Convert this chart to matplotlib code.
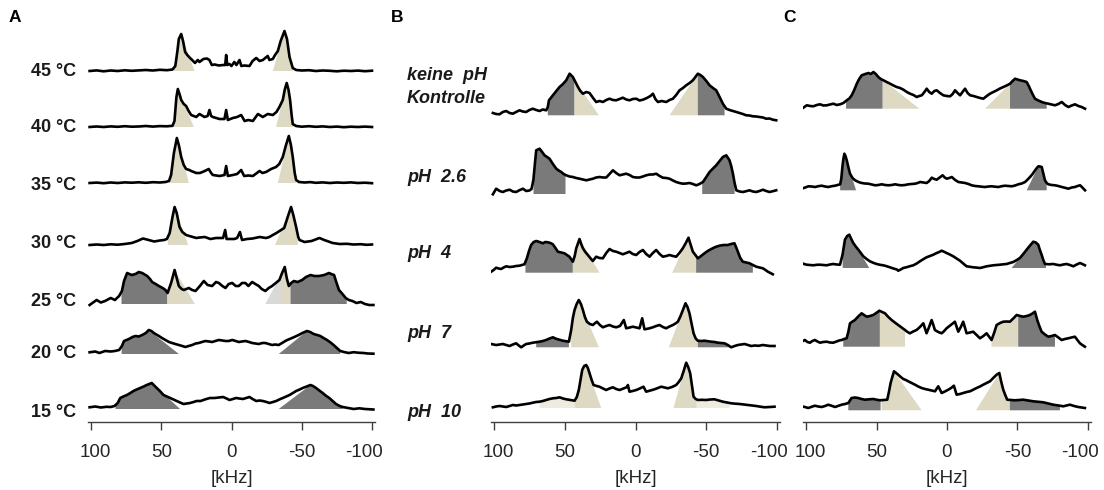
import numpy as np
import matplotlib
matplotlib.use('Agg')
import matplotlib.pyplot as plt
import matplotlib.transforms as mtransforms

plt.rcParams['font.family'] = ['Liberation Sans', 'DejaVu Sans']
plt.rcParams['axes.unicode_minus'] = False

# ---- spectra: (kHz, intensity) ----
A_45 = [(101,0),(96,0.6),(91,-0.3),(86,0.5),(81,0),(76,0.7),(71,0.2),(66,0.6),(61,1),(56,0.5),(51,1.2),(46,0.8),(42,1.5),(40,5),(38.5,20),(37.5,32),(35.8,37),(34.5,30),(33,19),(31.5,16),(29.5,13),(28,11),(26,8),(24,11),(22.8,9),(20,12),(17.5,12.5),(15.7,11),(14,6),(12,6.5),(9,5.5),(6,6),(4.5,6),(3.8,16),(3,6),(1.5,7),(0,5),(-2,9),(-3.5,6),(-5.7,11),(-7,5),(-9,5.5),(-12.8,5),(-15,10),(-17.6,13),(-20,10),(-22.3,11),(-24,13),(-25.8,15),(-27,11),(-29.4,12),(-31,16),(-33,20),(-35,30),(-37.7,40),(-39.5,32),(-41.3,14),(-43.6,3),(-46,1),(-50,0.5),(-55,0.8),(-60,0),(-65,0.5),(-70,0.2),(-75,-0.3),(-80,0.3),(-85,0),(-90,0.4),(-95,-0.2),(-100,0.3)]
A_40 = [(101,0),(96,0.5),(91,0),(86,0.6),(81,0.2),(76,0.8),(71,0.3),(66,0.5),(61,1),(56,0.4),(51,0.9),(46,0.7),(42,1.2),(40.6,6),(39.2,30),(38.2,38),(36.8,32),(35.8,27),(34,23),(32.3,21),(30.5,16),(28.7,12),(25.1,10),(22.8,13),(19.2,10),(17,11),(15.7,17),(14.5,11),(13.3,10),(8.5,8),(5,8),(3.8,17),(2.6,7),(-1,9),(-4,10),(-6.9,12),(-9.3,6),(-12,7),(-15.2,6),(-18.8,13),(-22.3,10),(-25.8,13),(-29.4,12),(-32,15),(-34.1,20),(-36.5,27),(-38,38),(-39.3,44),(-40.6,37),(-41.7,27),(-42.8,12),(-43.6,3),(-46,1),(-50,0.3),(-55,0.8),(-60,0.2),(-65,0.6),(-70,0),(-75,0.4),(-80,-0.2),(-85,0.3),(-90,0),(-95,0.4),(-100,0)]
A_35 = [(101,0),(96,0.4),(91,-0.2),(86,0.5),(81,0),(76,0.6),(71,0.3),(66,0.7),(61,0.2),(56,0.8),(51,0.5),(47,1),(44.5,2),(43,8),(41,30),(38.9,45),(37.5,38),(35.8,26),(34,18),(32.3,14),(30,13),(28.7,12),(25.1,10),(22.5,10),(19,12),(16.2,14),(14.5,10),(13.3,8),(8.5,7),(5,8),(3.8,17),(2.6,7),(-1,8),(-4,9),(-6.9,13),(-9,7),(-12,7.5),(-15.2,7),(-20,12),(-22,10),(-24.6,11),(-28.2,14),(-31.7,16),(-34,19),(-36.5,26),(-38.8,38),(-40.8,47),(-42.3,38),(-43.6,26),(-45,10),(-46,3),(-48,1),(-52,0.5),(-56,0.9),(-60,0.2),(-65,0.6),(-70,0),(-75,0.5),(-80,0.2),(-85,0.6),(-90,0),(-95,0.3),(-100,-0.2)]
A_30 = [(101,0),(96,0.5),(91,0),(86,0.7),(81,0.3),(76,1),(71,2),(67,4),(63,6.5),(59,5),(55,3.5),(51,4.5),(48,5),(46,6),(44,12),(42,28),(40.5,38),(39,32),(37,18),(35,13),(32.3,10),(30,9),(27.5,8),(25,7),(22.8,7.5),(19,8),(15,6),(11,7),(6,7),(4.5,15),(3.5,6),(1,6),(-2,6),(-4,7),(-6,13),(-7.5,5),(-11,6),(-15,6.5),(-20,8),(-24.6,7),(-27,8),(-29.4,10),(-32,12),(-35.3,15),(-37.5,17),(-40,28),(-42.4,38),(-44,30),(-46,18),(-47.5,8),(-48.4,5),(-52,3),(-57,4),(-62.6,7),(-66,5),(-70,3),(-72,2),(-77,1),(-82,1.2),(-87,0.5),(-92,0.8),(-96,0.2),(-100,0.5)]
A_25 = [(101,-2),(98,1),(96,3),(93,0.5),(90,2),(86,5),(83,3),(80,7),(78,12),(76.5,22),(74.3,30),(71,28),(68.3,29),(66,31),(63.6,30),(60,27),(58,24),(56.5,21),(54,19),(51.7,17),(49,15),(47,13),(45.5,10),(43,20),(40.5,33),(39,25),(37.5,17),(35.5,14),(33.9,13),(30.4,15),(28,13),(25.6,12),(22.5,17),(19.7,22),(17,18),(13.8,17),(11,21),(9,20),(6.5,17),(4.3,15),(2,19),(-0.5,20),(-3,17),(-5.2,17),(-7.5,20),(-9.9,20),(-12,17),(-14.7,21),(-17,19),(-19.4,17),(-21.5,14),(-24.1,12),(-26.5,15),(-28.9,17),(-31.5,20),(-34.1,23),(-36,30),(-37.9,36),(-39.3,25),(-40.8,17),(-42.5,20),(-44.4,22),(-47,21),(-50.3,23),(-53,26),(-56.3,28),(-59,27),(-62.3,27),(-66,28),(-69.4,30),(-71,29),(-73,28),(-74.8,20),(-76.5,13),(-79,9),(-81.3,5),(-83.5,3),(-86,2),(-89,0),(-92,1),(-95,-1),(-98,-2),(-101,-2)]
A_20 = [(101,0.7),(97,1.5),(94,0),(90,2),(86,1.5),(83,2),(80,3),(78,7),(76.5,12),(73,14),(70.5,16),(68.3,17),(66,16.5),(63.6,18),(61,20),(58.9,23),(57,22),(55.3,20),(53.5,18.5),(51.7,17),(49.5,15),(47,13),(44.5,11),(42.3,10),(40,9),(37.5,8),(35,7),(32.8,6),(30.5,7),(28,8),(25.5,9.5),(23.3,10),(21,11),(18.6,12),(16,11.5),(13.8,11),(11.5,12),(9,13),(6.5,12.5),(4.3,12),(2,12),(-0.5,13),(-3,12),(-5.2,11),(-7.5,11.5),(-9.9,12),(-12.5,11),(-14.7,10),(-17,9.5),(-19.4,9),(-22,10),(-24.1,10),(-26.5,9),(-28.9,8),(-31,8.5),(-33.6,8),(-36,10),(-38.3,12),(-40.5,13.5),(-43.1,15),(-45.5,16.5),(-47.8,18),(-50.5,20),(-53.7,22),(-56,21),(-58.5,19),(-61,18),(-63.2,17),(-65.5,15),(-68,13),(-70.5,10.5),(-72.7,8),(-75,5),(-77.4,2),(-80,1),(-83.4,0),(-87,0.8),(-90,0.3),(-94,0),(-97,-0.5),(-101,-0.7)]
A_15 = [(101,0.7),(97,1.5),(93,0.5),(89,1.2),(86,1),(83.3,2),(81,5),(79.2,10),(77,11.5),(74.5,13),(72,15),(69.8,17),(67.5,18.5),(65,20),(62.5,21.5),(60.4,23),(58.5,24),(56.8,25),(55,22.5),(53.2,20),(51,17),(48.4,13),(46,11.5),(43.7,10),(41.3,8.5),(39,7),(36.6,5.5),(34.2,4),(31.8,4.5),(29.5,5),(27,6),(24.8,7),(22,7),(19,8.5),(15.4,10),(12,10),(9,10.5),(6,11),(3.5,9.5),(1.4,8),(-1,9),(-3.3,10),(-5.5,9.5),(-8.1,9),(-10.5,10),(-12.8,11),(-15,9),(-17.6,7),(-20,7.5),(-22.3,7),(-25,6),(-27,5),(-29.5,6),(-31.8,7),(-34,8.5),(-36.5,10),(-39,11.5),(-41.3,13),(-43.7,15),(-46,17),(-48.5,18.5),(-50.7,20),(-53.5,21.5),(-56.2,23),(-58,22),(-60.2,20),(-62.5,17.5),(-64.9,15),(-67,12.5),(-69.6,10),(-72,7),(-74.4,4),(-77,2),(-79.1,1),(-83,0),(-87,-1),(-91,-0.3),(-95,-1),(-101,-1.5)]

B_ctrl = [(100.8,6),(98.5,5),(96.1,4.7),(93.8,7),(91.4,8),(89,6),(86.7,5.3),(84.4,7),(82,8.7),(79.7,7.5),(77.3,7),(75,9),(72.6,10.3),(70.2,9),(67.8,8),(65.5,9.5),(63.1,8.7),(62,12),(61.2,18.7),(58.4,23.7),(56,28),(53.7,32),(51.3,35),(49,38.7),(46.6,45.3),(44.3,42),(42.5,37),(40.7,32),(39,28),(37.2,25.3),(34.8,27),(32.5,26),(30,21),(27.8,17),(25.4,18),(23.1,17),(20.7,19),(18.4,20.3),(16,19),(13.7,18.7),(11.3,20),(9,21.3),(6.6,19.5),(4.2,18.7),(1.9,20),(-0.5,20.3),(-2.8,18.5),(-5.2,19.3),(-8,21),(-10.5,23),(-12.3,25.3),(-14,20),(-15.8,17),(-18.5,18),(-21.7,17),(-24,19),(-26.4,20.3),(-28.7,24),(-31.1,28.7),(-33.5,31),(-35.8,33.7),(-38.2,36),(-40.5,38.7),(-42.3,42),(-44,45.3),(-45.8,44),(-47.6,42),(-50,38),(-52.3,33.7),(-54.7,31),(-57,28.7),(-59.4,22),(-61.7,15.3),(-64.1,10.3),(-66.4,9),(-68.8,8),(-71.2,7),(-73.5,6),(-75.8,5),(-78.2,3.7),(-80.5,3.5),(-82.9,2.7),(-85.3,2.5),(-87.6,2),(-90,1.5),(-92.3,0.3),(-94.7,0.5),(-97,-0.7),(-99.4,-1.3)]
B_26 = [(100.8,-2.3),(98.5,3.3),(96,1),(93.8,0),(91.4,1.5),(89,2.3),(86.7,0.5),(84.4,0),(82,1.8),(79.6,3.3),(77.3,1),(75,1.5),(73.5,3),(72.2,12),(71,30),(70.2,41.7),(67.8,43.3),(66,40),(64.3,36.7),(62.5,35),(60.8,33.3),(58.4,28),(56,23.3),(54.3,21.5),(52.5,20),(50.8,18),(49,16.7),(46.6,15.5),(44.3,15),(42,14),(39.6,13.3),(37.2,12.5),(34.8,11.7),(32.5,12.5),(30.1,13.3),(27.8,14.5),(25.4,15),(23,14.5),(20.7,14.5),(18.4,18),(16,21.7),(13.7,19),(11.3,16.7),(9,17.5),(6.6,18.3),(4.2,17),(1.9,15),(-0.5,14.5),(-2.8,14.5),(-5.2,15.5),(-7.5,16.7),(-10,17.5),(-12.3,17.5),(-14.6,18.3),(-17,16),(-19.3,14.3),(-21.7,14),(-24,13.3),(-26.4,11.5),(-28.7,10),(-31,9),(-33.4,8.3),(-35.8,8.5),(-38.2,9),(-40.5,8),(-42.9,6.7),(-45.2,8),(-47.6,10),(-50,15),(-52.3,20),(-54.7,23.5),(-57,26.7),(-59.4,31),(-61.7,35),(-64.1,36.7),(-66.4,31.7),(-67.6,26),(-68.8,18.3),(-70,9),(-71.2,1.7),(-73.5,0.5),(-75.8,0),(-78.2,0.8),(-80.5,1.7),(-82.9,0.5),(-85.3,0),(-87.6,1),(-90,2.3),(-92.3,1),(-94.7,0),(-97,0.8),(-99.4,1.7)]
B_4 = [(102,0.3),(100.3,2),(98.5,4.3),(96.8,3.5),(95,3),(93.2,4.5),(91.4,5.7),(89,5),(86.7,5.3),(84.4,6),(82,6.3),(80.3,7),(78.5,7.7),(76.8,13.7),(75.3,21),(73.8,27),(72,30),(70.2,31),(67.8,30),(65.5,28.7),(63.8,30),(62,29.7),(60.2,29),(58.4,27.7),(56.6,24),(54.9,20.3),(52.5,19.5),(50.2,18.7),(48.5,17),(46.7,15.3),(44.3,10.3),(43,16),(41.9,23.7),(39.6,33),(38.4,28),(37.2,23.7),(35.5,20),(33.7,17),(32,14),(30.2,11),(27.8,15.3),(25.5,14),(23.1,13.7),(20.7,19),(18.4,23),(16,21),(13.7,20.3),(11.3,19),(9,17.7),(6.6,19),(4.3,20.3),(2,18),(-0.5,17),(-2.8,20),(-5.2,22),(-7.5,18),(-9.9,15.3),(-12.2,19),(-14.6,22),(-17,18),(-19.3,15.3),(-21.7,16),(-24,17),(-26.4,16),(-28.7,15.3),(-31,19),(-33.4,23.7),(-35.5,29),(-37.4,34.3),(-39,27),(-40.5,20.3),(-42.3,17),(-44,13.7),(-46.3,16),(-48.7,18.7),(-51,21),(-53.5,23),(-56.4,25),(-59.3,26.3),(-62.2,27),(-65.2,27),(-67.5,28),(-69.9,28.7),(-71,25),(-72.3,20.3),(-74,14),(-75.8,10.3),(-78.2,9.5),(-80.5,8.7),(-82.9,7),(-85.3,5.3),(-87.6,4.5),(-90,3.7),(-91.8,2),(-93.5,0.3),(-95.3,-1),(-97,-2.3)]
B_7 = [(102,2),(100.3,1.5),(98.5,1),(96,1.5),(93.8,2),(91.4,1),(89,0),(86.7,1.5),(84.4,2.7),(82.5,0.5),(80.8,-1.3),(79,0.5),(77.3,2),(75,2.5),(72.6,3.3),(70.2,3.8),(67.9,4.3),(65.5,5),(63.2,6),(60.8,7.5),(58.4,8.7),(56.6,7.5),(54.9,6.7),(53.1,6),(51.4,5.3),(49.2,4.8),(47.1,4.3),(45.5,16),(44.3,28),(43.1,36),(41.6,42),(40.1,46),(38.6,42),(37.2,36),(35.8,29),(34.4,24.3),(32.3,22),(30.2,21),(27.3,24.3),(25.2,21),(23.1,18.7),(20.7,20),(18.4,21),(16,19.5),(13.7,18.7),(11,20),(8.3,26),(6.6,17.7),(4.2,18.5),(1.9,19.3),(-0.5,18.5),(-2.8,17.7),(-4.7,27.7),(-6.3,16.7),(-9.3,17.5),(-12.2,18.7),(-14.6,20),(-16.9,21),(-19.3,19),(-21.6,17.7),(-24,19.5),(-26.4,21),(-28.2,22.5),(-29.9,24.3),(-31.5,29),(-33,34.3),(-35.3,42.7),(-36.7,39),(-38.1,32.7),(-39.5,23),(-41,12.7),(-42.5,7.5),(-44,5.3),(-46.3,5),(-48.7,5.3),(-51.1,4.8),(-53.5,4.3),(-55.8,4),(-58.2,3.3),(-60.5,3),(-62.9,2.7),(-65.2,1),(-67.6,-1.3),(-70,0),(-72.3,1),(-74.7,1.5),(-77,2),(-79.4,1),(-81.7,0),(-84.4,0.5),(-87,0.2),(-90,1),(-92.3,0.5),(-95,0),(-98.2,0)]
B_10 = [(100.8,-0.3),(98.5,0.5),(96.1,1),(93.8,0.5),(91.4,0),(89,1),(86.7,2),(84.4,1.5),(82,2),(79.7,2.5),(77.3,3),(75,3.5),(72.6,4.3),(70.2,5),(67.9,5.3),(65.5,6),(63.2,7),(60.8,8),(58.4,8.7),(56,9),(53.7,9.7),(51.3,8.5),(49,7.7),(46,7),(43.1,6.3),(41.5,10),(40.1,17),(38.9,27),(37.7,37),(36.3,41),(34.9,42),(33.7,39),(32.5,33.7),(31,27),(29.7,22),(27.5,21),(25.5,20.3),(23,18.5),(20.8,17),(18.4,18.5),(16,19.7),(13.7,18),(11.3,17),(8.5,18.5),(6,20),(5.4,22),(4.3,15.3),(2,16),(-0.5,17),(-3,18.5),(-5.6,20.3),(-7.5,15.3),(-10.5,16.5),(-13.4,17.7),(-15.8,19),(-18.1,20.3),(-20.5,19.5),(-22.8,18.7),(-25.8,20),(-28.7,22),(-30.5,25),(-32.3,28.7),(-34,36),(-35.8,44.3),(-37.2,40),(-38.6,33.7),(-39.8,22),(-41,10.3),(-42.5,8),(-44,7),(-47,7.2),(-49.9,7),(-52.8,7.5),(-55.8,7.7),(-58.7,6.5),(-61.7,5.3),(-64.7,4.5),(-67.6,3.7),(-70.6,3.3),(-73.5,3),(-76.5,2.5),(-79.4,2),(-82.3,1.5),(-85.3,1),(-88.2,0.3),(-91.2,-0.3),(-94.7,0),(-98.2,0.3)]

C_ctrl = [(103,-1.7),(101.2,0),(99.5,1.7),(97,1),(94.8,0.7),(92.4,2),(90,2.7),(87.7,1.5),(85.3,1.7),(83,2.5),(80.6,3.3),(78.2,2),(75.8,2.7),(73.5,4),(71.1,6.7),(69.3,8.5),(67.6,11.7),(65.8,17),(64,23.3),(62.3,28),(60.5,31.7),(58,33),(55.7,34),(54,33),(52.2,35),(50.5,33),(48.7,30),(47,28),(45.1,26.7),(42.8,25),(40.4,23.3),(38,21.5),(35.7,20),(33.3,19),(30.9,17.3),(28.5,15),(26.2,13.3),(23.8,12),(21.5,10),(19.7,11),(17.9,11.7),(16,15),(14.4,18.3),(12.6,15),(10.8,13.3),(9,16),(7.3,16.7),(5,14),(2.6,11.7),(0.2,11),(-2.2,10.7),(-4,13),(-5.7,16.7),(-7.5,14),(-9.3,11.7),(-11,15),(-12.8,18.3),(-14.6,14),(-16.4,11.7),(-18.8,11),(-21.1,10),(-23.5,9),(-25.8,8.3),(-28.2,11),(-30.5,13.3),(-32.9,15),(-35.3,16.7),(-37.6,18.5),(-40,20),(-42.3,21.5),(-44.7,23.3),(-46.5,26),(-48.3,28.3),(-50,27.5),(-51.8,26.7),(-54.2,26),(-56.5,25),(-58,21),(-59.4,16.7),(-61,12),(-62.4,8.3),(-64.8,6.5),(-67.2,5),(-69.5,4),(-71.9,3.3),(-74.2,2.5),(-76.6,1.7),(-79,3),(-81.4,5),(-83.7,2),(-86.1,0),(-88.5,1.5),(-90.8,2.7),(-93.2,1),(-95.5,0),(-97.9,-1.7)]
C_26 = [(103,-1.7),(100.6,-0.5),(98.3,0.7),(96,0.5),(93.6,0),(91.3,0.8),(88.9,1.3),(86.5,0.5),(84.2,0),(81.8,0.8),(79.4,1.3),(77.6,2),(75.8,2.7),(75,8),(74.2,20),(73.5,28),(72.8,33.3),(72,31),(71.1,26.7),(70,20),(68.8,13.3),(67,9),(65.2,6.7),(62.8,5),(60.5,4),(58.2,3.5),(55.8,3.3),(53.4,2.5),(51,1.7),(48.7,2),(46.3,2.7),(43.9,2),(41.6,1.7),(39.2,2),(36.8,2.7),(34.4,2),(32.1,1.7),(29.8,2),(27.4,2.7),(25,3),(22.6,3.3),(20.8,4),(19.1,5),(16.7,4.5),(14.4,4),(12.6,6),(10.8,9.3),(9,8),(7.3,7.3),(5.2,9.5),(3.1,11.7),(1.6,9.5),(0.2,8.3),(-1.6,9),(-3.4,10),(-5.8,7),(-8.1,5),(-10.5,4.5),(-12.8,4),(-15.2,3),(-17.5,1.7),(-19.9,1),(-22.3,0.7),(-24.6,0.3),(-27,0),(-29.4,0.5),(-31.7,0.7),(-34.1,0.3),(-36.5,0),(-38.8,0.8),(-41.2,1.3),(-43.5,1),(-45.9,0.7),(-48.3,1.5),(-50.6,2.7),(-53,3.5),(-55.4,5),(-57.2,7.5),(-58.9,10),(-60.7,13),(-62.5,16.7),(-63.7,19),(-64.8,20.7),(-66,20.5),(-67.2,20),(-68.4,13),(-69.5,6.7),(-70.7,4),(-71.9,2.7),(-74.2,2),(-76.6,1.7),(-79,1),(-81.4,0),(-83.7,-0.8),(-86.1,-1.7),(-88.5,-0.5),(-90.8,0),(-92.6,1),(-94.4,1.7),(-96,-0.5),(-97.9,-3.3)]
C_4 = [(103.1,1),(101.4,0),(99.6,-0.7),(97.2,-1),(94.8,-1.3),(92.5,-0.8),(90.1,-0.7),(87.7,-1),(85.4,-1.3),(83,-0.5),(80.7,0),(78.3,-0.5),(75.9,-0.7),(74.1,9.3),(72.4,24.3),(70.8,28),(69.3,29.3),(67.9,25),(66.5,21),(64.7,17.5),(62.9,14.3),(61.1,11),(59.4,7.7),(57,5),(54.7,2.7),(52.3,1.2),(49.9,0),(47.5,-0.8),(45.2,-1.3),(42.8,-2.2),(40.5,-3.3),(38,-4.5),(35.6,-5.5),(34.6,-6.7),(32.8,-5.5),(31,-4),(28.6,-3.2),(26.3,-2.2),(23.9,-1.3),(21.5,0.5),(19.2,2.7),(16.8,4.8),(14.5,6.7),(12.1,8),(9.7,9.3),(7.3,11),(5.5,12),(3.8,13.3),(2,12.2),(0.3,11),(-2,9.5),(-4.4,7.7),(-6.8,5.5),(-9.2,3.3),(-11.5,0.5),(-13.9,-2.3),(-16.3,-2.8),(-18.6,-3.3),(-21,-3.6),(-23.4,-4),(-25.8,-3.2),(-28.1,-2.3),(-30.5,-1.8),(-32.8,-1.3),(-35.2,-1),(-37.5,-0.7),(-40,-0.3),(-42.3,0),(-44.6,1),(-47,2),(-49.3,3.8),(-51.7,6),(-54.1,10),(-56.5,14.3),(-58.8,18.3),(-61.2,22.3),(-63,21.5),(-64.7,19.3),(-65.9,14),(-67.1,9.3),(-68.3,4),(-69.5,0),(-72.5,-0.3),(-75.4,0),(-78,-0.8),(-80.1,-1.3),(-82.5,-0.5),(-84.8,0),(-87.2,-1),(-89.6,-2.3),(-92,-0.5),(-94.3,1),(-96,0),(-97.8,-1.3)]
C_7 = [(103.1,2.3),(100.8,4),(99,2),(97.2,1.3),(95.5,3),(93.7,4),(91.9,2.5),(90.1,1.3),(87.8,2),(85.4,2.3),(83,1.5),(80.7,1.3),(78.3,2.5),(76.5,3.5),(74.7,4),(73,5),(71.2,5.7),(70,12),(68.8,20.7),(67,22.5),(65.3,24),(63,27.5),(60.6,30.7),(58.8,29),(57,27.3),(54.6,28),(52.3,29),(50.2,31),(48,33.3),(46,32),(44,30.7),(41.6,27),(39.3,24),(37,21.5),(34.6,19),(32.2,16.5),(29.8,14),(28,12),(26.3,10.7),(24,12.5),(21.6,14),(19.2,17),(16.8,20.7),(14.5,10.7),(12.7,17),(10.9,24),(9.7,19),(8.6,14),(6.2,12),(3.8,10.7),(2,13),(0.3,15.7),(-2.7,19),(-5.6,22.3),(-8,12.3),(-9.8,17),(-11.5,22.3),(-13.9,10.7),(-16.3,11.5),(-18.6,12.3),(-21,9),(-23.4,5.7),(-25.8,8),(-28.1,10.7),(-30,7),(-31.6,4),(-33.4,11),(-35.2,19),(-37.6,21),(-39.9,22.3),(-42.3,22.5),(-44.6,22.3),(-47,25.5),(-49.4,29),(-51.8,28),(-54.1,27.3),(-56.5,28),(-58.8,29),(-60.6,30.5),(-62.4,32.3),(-64,24),(-65.5,18),(-67.1,12.3),(-69.5,9.5),(-71.8,7.3),(-74.2,8),(-76.6,9),(-79,6.5),(-81.3,4),(-83.7,5),(-86,5.7),(-88.3,6.5),(-90.7,7.3),(-92.5,4),(-94.3,0.7),(-96,-1),(-97.8,-2.7)]
C_10 = [(103.1,0.7),(100.8,0),(98.4,-1),(96,0.2),(93.7,1.3),(91.3,0.5),(88.9,0),(86.5,1),(84.2,2.3),(81.8,1.2),(79.4,0),(77,1.2),(74.7,2.3),(72.3,3),(70,4),(67.7,9),(65.3,9.5),(63,9),(60.6,8),(58.2,7.3),(55.3,7.7),(52.3,8),(50,7.3),(47.6,6.7),(45,7),(42.4,7.3),(41.2,15),(40,24),(38.8,30),(37.6,35.7),(36.1,34),(34.6,32.3),(32.8,30),(31,28),(29.2,27),(27.5,25.7),(25.1,24),(22.7,22.3),(20.4,20.5),(18,19),(15.6,18),(13.3,17.3),(10.9,16.5),(8.5,15.7),(6.2,20.7),(3.8,14),(1.5,15.5),(-0.9,17.3),(-2.9,19),(-4.9,21.3),(-6.8,12.3),(-9.2,13),(-11.5,14),(-13.9,15),(-16.3,15.7),(-18.6,17.3),(-21,19),(-23.4,20.5),(-25.7,22.3),(-28.1,24),(-30.5,25.7),(-32.8,29),(-35.2,32.3),(-37.1,34),(-38.5,25),(-39.9,17.3),(-41.3,12),(-42.7,7.3),(-45.5,7),(-48.2,6.7),(-51.2,7),(-54.1,7.3),(-57.6,6.5),(-61.2,5.7),(-64.7,5.2),(-68.3,4.7),(-71.8,3.5),(-75.4,2.3),(-79,1.5),(-82.5,0.7),(-84.8,1.5),(-87.2,2.3),(-90.1,1),(-93.1,0),(-95.5,-0.5),(-97.8,-1)]

# ---- shaded components: (start kHz, end of curve part, foot kHz, kind) ----
A_45_fill = [(41, 35.8, 26.3, 'tan'), (-43.6, -37.7, -29.4, 'tan')]
A_40_fill = [(41, 38.2, 26.8, 'tan'), (-44, -39.3, -31.7, 'tan')]
A_35_fill = [(44, 38.9, 30.3, 'tan'), (-46, -40.8, -33, 'tan')]
A_30_fill = [(45.3, 40.5, 30.8, 'tan'), (-47.2, -42.4, -31, 'tan')]
A_25_fill = [(78.3, 45.6, 45.6, 'dark'), (45.6, 40.5, 26.1, 'tan'), (-36, -36, -24, 'light'),
             (-35.5, -42, -42, 'tan'), (-42, -82, -82, 'dark')]
A_20_fill = [(78.2, 58.9, 37.5, 'dark'), (-77.4, -53.7, -33.6, 'dark')]
A_15_fill = [(82.6, 56.8, 36.6, 'dark'), (-79, -56.2, -33.6, 'dark')]

B_ctrl_fill = [(62, 43.1, 43.1, 'dark'), (43.1, 43.1, 25.9, 'tan'), (-44, -44, -24, 'tan'), (-44, -62.9, -62.9, 'dark')]
B_26_fill = [(72.1, 49.5, 49.5, 'dark'), (-47.1, -70, -70, 'dark')]
B_4_fill = [(77.8, 44.3, 44.3, 'dark'), (44.3, 39.6, 25.5, 'tan'), (-42.8, -37.4, -25.9, 'tan'), (-42.8, -82.9, -82.9, 'dark')]
B_7_fill = [(70.2, 47.1, 47.1, 'dark'), (45.5, 40.1, 25.9, 'tan'), (-44, -35.3, -23.5, 'tan'), (-44, -66.4, -66.4, 'dark')]
B_10_fill = [(67.9, 43.1, 43.1, 'faint'), (43.1, 34.9, 24.3, 'tan'), (-43.3, -35.8, -26.8, 'tan'), (-43.3, -66.4, -66.4, 'faint')]

C_ctrl_fill = [(71.6, 45.6, 45.6, 'dark'), (45.6, 45.6, 19.6, 'tan'), (-44.7, -44.7, -27, 'tan'), (-44.7, -70.7, -70.7, 'dark')]
C_26_fill = [(75.8, 72.8, 64.5, 'dark'), (-70.7, -64.8, -56.5, 'dark')]
C_4_fill = [(74, 69.3, 55.1, 'dark'), (-70.2, -61.2, -45.8, 'dark')]
C_7_fill = [(73.6, 47.6, 47.6, 'dark'), (47.6, 29.8, 29.8, 'tan'), (-31.6, -50.5, -50.5, 'tan'), (-50.5, -76.6, -76.6, 'dark')]
C_10_fill = [(70, 47.1, 47.1, 'dark'), (46.4, 37.6, 18, 'tan'), (-44.6, -37.1, -20.5, 'tan'), (-44.6, -80.1, -80.1, 'dark')]

A_labels = ['45 °C', '40 °C', '35 °C', '30 °C', '25 °C', '20 °C', '15 °C']
B_labels = ['keine  pH\nKontrolle', 'pH  2.6', 'pH  4', 'pH  7', 'pH  10']
ticks = [100, 50, 0, -50, -100]
tick_labels = ['100', '50', '0', '-50', '-100']

# ---- layout (stack offsets in pixel-like units) ----
colors = {'tan': '#DDD9C3', 'dark': '#7A7A7A', 'light': '#D9D9D9', 'faint': '#EEECE1'}
A_offsets = [351, 295, 239, 177, 119, 69, 14]
A_fill_base = [0, 0, 0, 0, -1, -1, -1]
A_label_y = [350, 294, 236, 179, 121, 69, 10]
B_offsets = [303, 230, 150, 76, 15]
B_fill_base = [3.7, -2, -0.7, -1.3, -1]
B_label_y = [335, 244, 169, 88, 10]
C_offsets = [315, 235, 158, 78, 15]
C_fill_base = [-1.7, -3.3, -4, -2.7, -3.3]

W, H = 1104, 490


def comp_poly(pts, a, b, c, base):
    xs = np.array([p[0] for p in pts])
    ys = np.array([p[1] for p in pts])
    ya = np.interp(a, xs[::-1], ys[::-1])
    yb = np.interp(b, xs[::-1], ys[::-1])
    lo, hi = min(a, b), max(a, b)
    inside = [(x, y) for x, y in pts if lo < x < hi]
    if a < b:
        inside = inside[::-1]
    poly = [(a, base), (a, ya)] + inside + [(b, yb), (c, base)]
    return [p[0] for p in poly], [p[1] for p in poly]


def draw_trace(ax, pts, fills, off, base):
    for a, b, c, kind in fills:
        px, py = comp_poly(pts, a, b, c, base)
        ax.fill(px, np.array(py) + off, color=colors[kind], lw=0, zorder=1)
    ax.plot([p[0] for p in pts], [p[1] + off for p in pts], color='black', lw=1.9,
            solid_joinstyle='round', zorder=3)


def make_axes(fig, left_px, width_px):
    ax = fig.add_axes([left_px / W, (H - 422) / H, width_px / W, 402 / H])
    ax.set_xlim(102, -102)
    ax.set_ylim(0, 402)
    for s in ['top', 'left', 'right']:
        ax.spines[s].set_visible(False)
    ax.spines['bottom'].set_color('#404040')
    ax.spines['bottom'].set_linewidth(1.0)
    ax.set_yticks([])
    ax.set_xticks(ticks)
    ax.set_xticklabels(tick_labels)
    ax.tick_params(axis='x', direction='out', length=5.5, width=1, color='#404040',
                   labelsize=13.5, labelcolor='#262626', pad=10)
    ax.set_xlabel('[kHz]', fontsize=13.5, color='#262626', labelpad=7)
    ax.patch.set_alpha(0)
    # end labels sit slightly inward of their ticks
    labs = ax.get_xticklabels()
    labs[0].set_transform(labs[0].get_transform() +
                          mtransforms.ScaledTranslation(4 / 100, 0, fig.dpi_scale_trans))
    labs[-1].set_transform(labs[-1].get_transform() +
                           mtransforms.ScaledTranslation(-8 / 100, 0, fig.dpi_scale_trans))
    return ax


fig = plt.figure(figsize=(W / 100, H / 100), dpi=100)

axA = make_axes(fig, 88.2, 286.6)
axB = make_axes(fig, 491.2, 288.7)
axC = make_axes(fig, 803.2, 287.6)

A_traces = [A_45, A_40, A_35, A_30, A_25, A_20, A_15]
A_fills = [A_45_fill, A_40_fill, A_35_fill, A_30_fill, A_25_fill, A_20_fill, A_15_fill]
trA = mtransforms.blended_transform_factory(axA.transAxes, axA.transData)
for pts, fl, off, base, lab, ly in zip(A_traces, A_fills, A_offsets, A_fill_base, A_labels, A_label_y):
    draw_trace(axA, pts, fl, off, base)
    axA.text(-0.042, ly, lab, transform=trA, ha='right', va='center',
             fontsize=13, fontweight='bold', color='#1a1a1a')

B_traces = [B_ctrl, B_26, B_4, B_7, B_10]
B_fills = [B_ctrl_fill, B_26_fill, B_4_fill, B_7_fill, B_10_fill]
trB = mtransforms.blended_transform_factory(axB.transAxes, axB.transData)
for pts, fl, off, base, lab, ly in zip(B_traces, B_fills, B_offsets, B_fill_base, B_labels, B_label_y):
    draw_trace(axB, pts, fl, off, base)
    axB.text(-0.292, ly, lab, transform=trB, ha='left', va='center', linespacing=1.45,
             fontsize=13, fontweight='bold', fontstyle='italic', color='#1a1a1a')

C_traces = [C_ctrl, C_26, C_4, C_7, C_10]
C_fills = [C_ctrl_fill, C_26_fill, C_4_fill, C_7_fill, C_10_fill]
for pts, fl, off, base in zip(C_traces, C_fills, C_offsets, C_fill_base):
    draw_trace(axC, pts, fl, off, base)

for lab, x in [('A', 15), ('B', 397), ('C', 790)]:
    fig.text(x / W, 1 - 18 / H, lab, ha='center', va='center', fontsize=12.5, fontweight='bold')

fig.savefig('out.png', dpi=100)
